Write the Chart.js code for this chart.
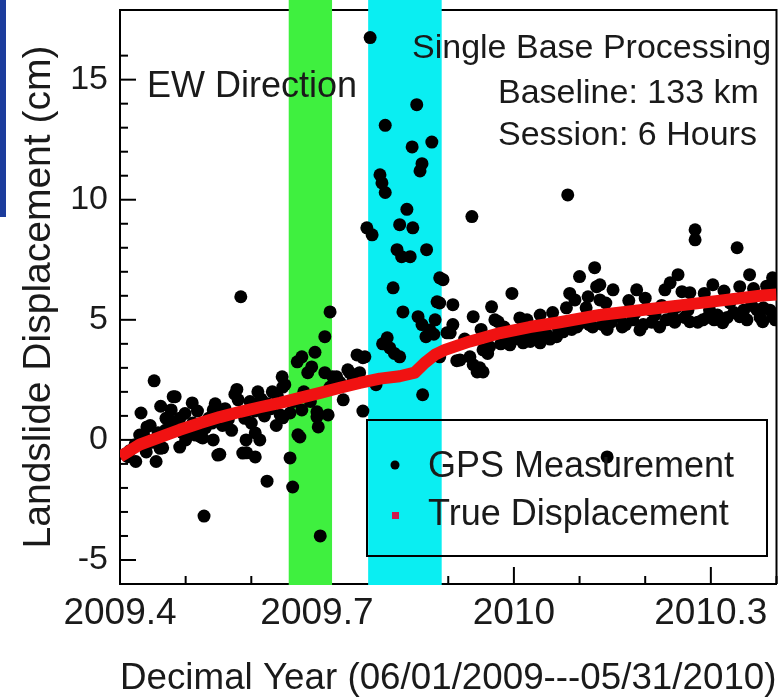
<!DOCTYPE html>
<html>
<head>
<meta charset="utf-8">
<script src="https://cdn.jsdelivr.net/npm/chart.js@4.4.0/dist/chart.umd.min.js"></script>
<style>
    html, body { margin: 0; padding: 0; background: #fff; }
    #wrap { position: relative; width: 783px; height: 697px; }
</style>
</head>
<body>
<div id="wrap"><canvas id="landslide_chart" width="783" height="697"></canvas></div>
<script>
// GPS measurements: [decimal year, displacement cm]
var gpsPoints = [
    [2009.408, -0.60], [2009.412, -0.70], [2009.415, -0.45], [2009.423, -0.20], [2009.424, -0.90],
    [2009.430, 0.20], [2009.432, 1.12], [2009.438, 0.10], [2009.440, -0.50], [2009.441, 0.54],
    [2009.446, 0.60], [2009.448, -0.10], [2009.452, 2.46], [2009.455, -0.90], [2009.458, 0.30],
    [2009.461, -0.35], [2009.462, 1.40], [2009.465, -0.33], [2009.469, 0.40], [2009.470, 0.90],
    [2009.476, 0.80], [2009.478, 1.25], [2009.481, 1.80], [2009.484, 1.80], [2009.485, 0.50],
    [2009.491, -0.30], [2009.491, 0.90], [2009.495, 0.30], [2009.499, 1.10], [2009.500, 0.00],
    [2009.505, 0.30], [2009.510, 1.54], [2009.511, 0.70], [2009.515, 0.20], [2009.518, 1.20],
    [2009.520, 0.40], [2009.523, 0.12], [2009.526, 0.08], [2009.528, -3.17], [2009.530, 0.50],
    [2009.535, 0.90], [2009.540, 0.70], [2009.542, 1.25], [2009.542, 0.00], [2009.545, 1.50],
    [2009.549, -0.63], [2009.552, -0.60], [2009.556, 0.60], [2009.560, 1.30], [2009.565, 0.85],
    [2009.570, 0.40], [2009.575, 1.90], [2009.578, 2.10], [2009.580, 1.67], [2009.584, 5.96],
    [2009.587, 1.12], [2009.587, -0.55], [2009.590, 0.90], [2009.592, 0.00], [2009.593, -0.54],
    [2009.598, 1.60], [2009.600, 0.70], [2009.605, 1.20], [2009.606, 0.29], [2009.606, -0.71],
    [2009.610, 2.00], [2009.613, 0.00], [2009.615, 1.70], [2009.620, 1.00], [2009.624, -1.72],
    [2009.625, 1.50], [2009.630, 1.30], [2009.632, 2.00], [2009.638, 0.60], [2009.640, 1.80],
    [2009.644, 1.04], [2009.647, 2.63], [2009.648, 2.20], [2009.648, 0.92], [2009.651, 2.30],
    [2009.659, 1.12], [2009.659, -0.75], [2009.663, -1.96], [2009.665, 1.60], [2009.670, 3.25],
    [2009.671, 0.21], [2009.674, 0.12], [2009.677, 3.46], [2009.677, 1.25], [2009.680, 2.00],
    [2009.686, 2.80], [2009.690, 1.60], [2009.692, 3.04], [2009.697, 3.65], [2009.700, 0.96],
    [2009.700, 1.17], [2009.702, 0.54], [2009.705, -4.00], [2009.712, 4.30], [2009.712, 2.80],
    [2009.717, 1.04], [2009.720, 5.33], [2009.720, 2.20], [2009.724, 2.63], [2009.730, 2.63],
    [2009.735, 2.40], [2009.740, 1.67], [2009.747, 2.92], [2009.750, 2.80], [2009.755, 2.50],
    [2009.761, 3.54], [2009.765, 2.80], [2009.770, 3.42], [2009.770, 1.20], [2009.773, 3.46],
    [2009.776, 8.83], [2009.781, 16.75], [2009.784, 8.54], [2009.790, 2.30], [2009.796, 11.04],
    [2009.799, 10.70], [2009.800, 4.00], [2009.804, 10.30], [2009.804, 13.10], [2009.807, 4.25],
    [2009.811, 3.83], [2009.816, 6.33], [2009.818, 3.60], [2009.822, 7.92], [2009.826, 8.96],
    [2009.826, 3.46], [2009.829, 7.63], [2009.831, 5.33], [2009.837, 9.60], [2009.842, 7.63],
    [2009.845, 12.20], [2009.846, 8.83], [2009.852, 13.96], [2009.854, 5.13], [2009.857, 11.20],
    [2009.860, 11.50], [2009.860, 4.80], [2009.861, 1.88], [2009.866, 4.30], [2009.867, 7.92],
    [2009.872, 4.58], [2009.875, 12.40], [2009.878, 4.40], [2009.880, 5.00], [2009.883, 5.75],
    [2009.887, 6.75], [2009.887, 5.70], [2009.887, 3.46], [2009.892, 6.67], [2009.898, 4.46],
    [2009.903, 4.46], [2009.907, 5.63], [2009.907, 4.80], [2009.913, 3.30], [2009.918, 3.33],
    [2009.925, 4.20], [2009.933, 3.46], [2009.936, 9.30], [2009.938, 5.13], [2009.938, 3.13],
    [2009.944, 2.83], [2009.948, 3.00], [2009.950, 4.60], [2009.953, 2.83], [2009.953, 3.75],
    [2009.955, 4.30], [2009.960, 3.60], [2009.963, 3.88], [2009.966, 5.54], [2009.971, 5.00],
    [2009.976, 4.92], [2009.980, 4.00], [2009.985, 4.70], [2009.990, 4.10], [2009.994, 3.96],
    [2009.997, 6.10], [2010.000, 4.20], [2010.005, 4.50], [2010.009, 5.08], [2010.014, 4.04],
    [2010.018, 4.40], [2010.020, 5.00], [2010.025, 4.10], [2010.030, 4.30], [2010.035, 4.60],
    [2010.040, 5.20], [2010.040, 4.04], [2010.045, 4.50], [2010.050, 4.40], [2010.055, 4.20],
    [2010.059, 5.30], [2010.065, 4.30], [2010.068, 4.60], [2010.075, 4.50], [2010.080, 5.50],
    [2010.082, 10.20], [2010.085, 6.10], [2010.088, 4.60], [2010.093, 5.83], [2010.096, 4.70],
    [2010.100, 6.80], [2010.105, 4.90], [2010.110, 5.50], [2010.113, 5.96], [2010.115, 4.80],
    [2010.118, 5.10], [2010.120, 4.70], [2010.123, 7.17], [2010.126, 6.38], [2010.131, 5.83],
    [2010.131, 6.46], [2010.135, 4.80], [2010.140, 5.70], [2010.142, 4.60], [2010.142, -0.71],
    [2010.148, 4.90], [2010.151, 6.25], [2010.155, 5.20], [2010.161, 5.13], [2010.165, 4.70],
    [2010.170, 4.80], [2010.175, 5.80], [2010.181, 5.00], [2010.185, 5.30], [2010.187, 6.25],
    [2010.192, 4.58], [2010.197, 4.80], [2010.200, 5.90], [2010.207, 5.42], [2010.210, 4.90],
    [2010.215, 5.20], [2010.222, 4.70], [2010.225, 5.60], [2010.230, 6.25], [2010.232, 5.00],
    [2010.238, 6.54], [2010.242, 5.13], [2010.245, 4.90], [2010.248, 5.54], [2010.250, 6.88],
    [2010.256, 6.17], [2010.260, 5.10], [2010.265, 5.40], [2010.268, 6.13], [2010.268, 4.92],
    [2010.276, 8.75], [2010.276, 8.33], [2010.280, 4.90], [2010.288, 5.00], [2010.290, 6.10],
    [2010.295, 5.10], [2010.298, 5.42], [2010.303, 6.46], [2010.305, 5.00], [2010.310, 5.20],
    [2010.318, 4.88], [2010.320, 6.20], [2010.325, 5.10], [2010.329, 5.70], [2010.335, 5.30],
    [2010.340, 8.00], [2010.344, 6.38], [2010.344, 5.13], [2010.350, 5.40], [2010.355, 5.00],
    [2010.359, 6.88], [2010.362, 5.60], [2010.365, 6.30], [2010.370, 5.42], [2010.375, 5.10],
    [2010.379, 4.92], [2010.380, 5.50], [2010.385, 6.40], [2010.390, 5.40], [2010.394, 6.75],
    [2010.394, 5.13], [2010.398, 5.00], [2010.398, 6.50]
];

// true displacement curve
var trueYear = [2009.400, 2009.430, 2009.461, 2009.491, 2009.522, 2009.552, 2009.583, 2009.613,
    2009.644, 2009.674, 2009.705, 2009.735, 2009.765, 2009.796, 2009.826, 2009.849, 2009.864,
    2009.880, 2009.895, 2009.933, 2009.979, 2010.024, 2010.070, 2010.131, 2010.192, 2010.253,
    2010.314, 2010.375, 2010.400];
var trueDisp = [-0.70, -0.20, 0.12, 0.42, 0.70, 0.95, 1.17, 1.36,
    1.54, 1.75, 1.96, 2.17, 2.37, 2.55, 2.65, 2.80, 3.20,
    3.55, 3.75, 4.10, 4.45, 4.70, 4.90, 5.20, 5.40, 5.60,
    5.80, 6.00, 6.05];

// shaded periods (decimal year)
var greenBand = [2009.657, 2009.723];
var cyanBand = [2009.778, 2009.890];

var xTickLabels = [2009.4, 2009.7, 2010, 2010.3];
var yTickLabels = [-5, 0, 5, 10, 15];

var FONT = '"Liberation Sans", Arial, sans-serif';
var TEXT = '#1a1a1a';

var frameAndBands = {
    id: 'frameAndBands',
    beforeDatasetsDraw: function (chart) {
        var ctx = chart.ctx, a = chart.chartArea;
        var xs = chart.scales.x, ys = chart.scales.y;
        ctx.save();
        ctx.strokeStyle = '#000';
        ctx.lineWidth = 2;
        ctx.beginPath();
        ctx.moveTo(a.left, a.top);
        ctx.lineTo(a.right, a.top);
        ctx.lineTo(a.right, a.bottom);
        ctx.stroke();

        // inward ticks
        xs.ticks.forEach(function (t) {
            var k = Math.round(t.value * 10);
            if (Math.abs(t.value * 10 - k) > 1e-6) return;
            var px = xs.getPixelForValue(t.value);
            var len = t.label ? 17 : 8;
            ctx.beginPath();
            ctx.moveTo(px, a.bottom);
            ctx.lineTo(px, a.bottom - len);
            ctx.stroke();
        });
        ys.ticks.forEach(function (t) {
            if (Math.abs(t.value - Math.round(t.value)) > 1e-6) return;
            var py = ys.getPixelForValue(t.value);
            var len = t.label ? 16 : 8;
            ctx.beginPath();
            ctx.moveTo(a.left, py);
            ctx.lineTo(a.left + len, py);
            ctx.stroke();
        });

        // shaded periods
        var bands = [[greenBand, '#3ff03f'], [cyanBand, '#0aeef2']];
        bands.forEach(function (b) {
            var x0 = xs.getPixelForValue(b[0][0]);
            var x1 = xs.getPixelForValue(b[0][1]);
            ctx.fillStyle = b[1];
            ctx.fillRect(x0, 0, x1 - x0, a.bottom + 1);
        });

        // blue frame edge at the far left
        ctx.fillStyle = '#1c3c9c';
        ctx.fillRect(0, 0, 6, 217);
        ctx.restore();
    },
    afterDatasetsDraw: function (chart) {
        var ctx = chart.ctx, a = chart.chartArea;
        ctx.save();
        ctx.fillStyle = TEXT;
        ctx.textBaseline = 'alphabetic';
        ctx.textAlign = 'left';

        ctx.font = '36px ' + FONT;
        ctx.fillText('EW Direction', a.left + 27, a.top + 87);

        ctx.font = '34px ' + FONT;
        ctx.fillText('Single Base Processing', a.left + 292, a.top + 48);
        ctx.fillText('Baseline: 133 km', a.left + 378, a.top + 93);
        ctx.fillText('Session: 6 Hours', a.left + 378, a.top + 135);

        // legend
        var lx = a.left + 247, ly = a.top + 410;
        ctx.strokeStyle = '#000';
        ctx.lineWidth = 2;
        ctx.strokeRect(lx, ly, 400, 136);

        ctx.fillStyle = '#000';
        ctx.beginPath();
        ctx.arc(lx + 28, ly + 45, 4.5, 0, Math.PI * 2);
        ctx.fill();
        ctx.fillStyle = '#d0184a';
        ctx.fillRect(lx + 25, ly + 92, 7, 7);

        ctx.fillStyle = TEXT;
        ctx.font = '36px ' + FONT;
        ctx.fillText(chart.data.datasets[1].label, lx + 61, ly + 57);
        ctx.fillText(chart.data.datasets[0].label, lx + 61, ly + 105);
        ctx.restore();
    }
};

var ctx = document.getElementById('landslide_chart').getContext('2d');
var landslideChart = new Chart(ctx, {
    type: 'scatter',
    data: {
        datasets: [
            {
                label: 'True Displacement',
                data: trueYear.map(function (x, i) { return { x: x, y: trueDisp[i] }; }),
                showLine: true,
                borderColor: '#f01212',
                borderWidth: 12,
                borderJoinStyle: 'round',
                pointRadius: 0,
                tension: 0
            },
            {
                label: 'GPS Measurement',
                data: gpsPoints.map(function (p) { return { x: p[0], y: p[1] }; }),
                backgroundColor: '#000',
                borderColor: '#000',
                borderWidth: 0,
                pointRadius: 6.5
            }
        ]
    },
    options: {
        responsive: false,
        animation: false,
        events: [],
        layout: {
            padding: { top: 10, right: 6, left: 0, bottom: 0 }
        },
        plugins: {
            legend: { display: false },
            tooltip: { enabled: false }
        },
        scales: {
            x: {
                type: 'linear',
                min: 2009.4,
                max: 2010.4,
                afterFit: function (s) {
                    s.height = 113;
                    s.paddingLeft = 0;
                    s.paddingRight = 0;
                },
                grid: { drawOnChartArea: false, drawTicks: false },
                border: { display: true, color: '#000', width: 2 },
                ticks: {
                    stepSize: 0.1,
                    autoSkip: false,
                    maxRotation: 0,
                    minRotation: 0,
                    padding: 11,
                    color: TEXT,
                    font: { family: FONT, size: 37, lineHeight: 1 },
                    callback: function (v) {
                        var hit = xTickLabels.filter(function (t) { return Math.abs(t - v) < 1e-6; });
                        return hit.length ? String(hit[0]) : '';
                    }
                },
                title: {
                    display: true,
                    text: 'Decimal Year (06/01/2009---05/31/2010)',
                    color: TEXT,
                    padding: { top: 0, bottom: 0 },
                    font: { family: FONT, size: 37, lineHeight: 1 }
                }
            },
            y: {
                type: 'linear',
                min: -6,
                max: 17.9,
                afterFit: function (s) {
                    s.width = 120;
                    s.paddingTop = 0;
                    s.paddingBottom = 0;
                },
                grid: { drawOnChartArea: false, drawTicks: false },
                border: { display: true, color: '#000', width: 2 },
                ticks: {
                    stepSize: 1,
                    autoSkip: false,
                    padding: 12,
                    color: TEXT,
                    font: { family: FONT, size: 34, lineHeight: 1 },
                    callback: function (v) {
                        return yTickLabels.indexOf(v) >= 0 ? String(v) : '';
                    }
                },
                title: {
                    display: true,
                    text: 'Landslide Displacement (cm)',
                    color: TEXT,
                    padding: { top: 20, bottom: 0 },
                    font: { family: FONT, size: 39, lineHeight: 1 }
                }
            }
        }
    },
    plugins: [frameAndBands]
});
</script>
</body>
</html>
